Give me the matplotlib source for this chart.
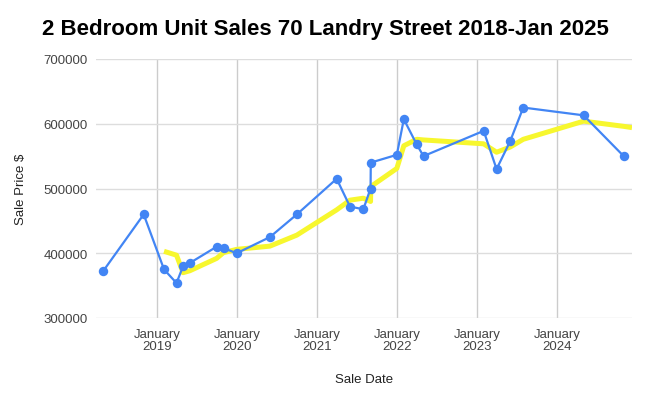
import matplotlib
matplotlib.use("Agg")
import matplotlib.pyplot as plt
import matplotlib.dates as mdates
import pandas as pd

plt.rcParams['font.family'] = ['Liberation Sans', 'DejaVu Sans']

sale_dates = ['2018-04-29', '2018-10-30', '2019-01-31', '2019-03-29', '2019-04-28',
              '2019-05-29', '2019-09-28', '2019-10-30', '2019-12-29', '2020-05-29',
              '2020-09-29', '2021-03-30', '2021-05-30', '2021-07-30', '2021-09-01',
              '2021-09-02', '2021-12-30', '2022-01-31', '2022-03-31', '2022-05-01',
              '2023-01-31', '2023-03-31', '2023-06-01', '2023-07-31', '2024-05-02',
              '2024-11-01']
sale_prices = [373000, 460000, 375000, 354000, 380000,
               385000, 410000, 408000, 400000, 425000,
               460000, 515000, 472000, 468000, 500000,
               540000, 552000, 607000, 568000, 550000,
               589000, 530000, 573000, 625000, 613000,
               550000]

trend_dates = ['2019-01-31', '2019-03-29', '2019-04-28', '2019-05-29', '2019-09-28',
               '2019-10-30', '2019-12-29', '2020-05-29', '2020-09-29', '2021-03-30',
               '2021-05-30', '2021-07-30', '2021-09-01', '2021-09-02', '2021-12-30',
               '2022-01-31', '2022-03-31', '2022-05-01', '2023-01-31', '2023-03-31',
               '2023-06-01', '2023-07-31', '2024-05-02', '2024-11-01', '2024-12-09']
trend_values = [403000, 397000, 370000, 373000, 392000,
                401000, 406000, 411000, 428000, 467000,
                482000, 485000, 480000, 503000, 531000,
                566000, 576000, 575000, 569000, 556000,
                564000, 576000, 604000, 596000, 594000]

tick_years = [2019, 2020, 2021, 2022, 2023, 2024]
y_ticks = [300000, 400000, 500000, 600000, 700000]

fig = plt.figure(figsize=(6.51, 4.02), dpi=100)
ax = fig.add_axes([96/651, 1-319/402, (632-96)/651, (319-60)/402])

sd = pd.to_datetime(sale_dates)
td = pd.to_datetime(trend_dates)

ax.plot(td, trend_values, color='#F7F72E', lw=3.6, solid_capstyle='butt', zorder=2)
ax.plot(sd, sale_prices, color='#4285F4', lw=1.6, marker='o', markersize=6.8,
        markeredgewidth=0, zorder=3)

ax.set_xlim(pd.Timestamp('2018-03-26'), pd.Timestamp('2024-12-09'))
ax.set_ylim(300000, 700000)
ax.set_yticks(y_ticks)
ax.set_yticklabels([str(v) for v in y_ticks])
xt = [pd.Timestamp(f'{y}-01-01') for y in tick_years]
ax.set_xticks(xt)
ax.set_xticklabels([f'January\n{y}' for y in tick_years], linespacing=1.05)

ax.grid(axis='y', color='#dddddd', lw=1)
ax.grid(axis='x', color='#cccccc', lw=1)
ax.set_axisbelow(True)
for s in ax.spines.values():
    s.set_visible(False)
ax.tick_params(axis='both', length=0, labelsize=9.5, colors='#444444')
ax.tick_params(axis='y', pad=6)
ax.tick_params(axis='x', pad=7)

ax.set_xlabel('Sale Date', fontsize=9.5, color='#222222', labelpad=15)
ax.set_ylabel('Sale Price $', fontsize=9.5, color='#222222', labelpad=12)

fig.text(42/651, 1-29/402, '2 Bedroom Unit Sales 70 Landry Street 2018-Jan 2025',
         fontsize=16, fontweight='bold', ha='left', va='center', color='#000000')

fig.savefig('out.png', dpi=100)
